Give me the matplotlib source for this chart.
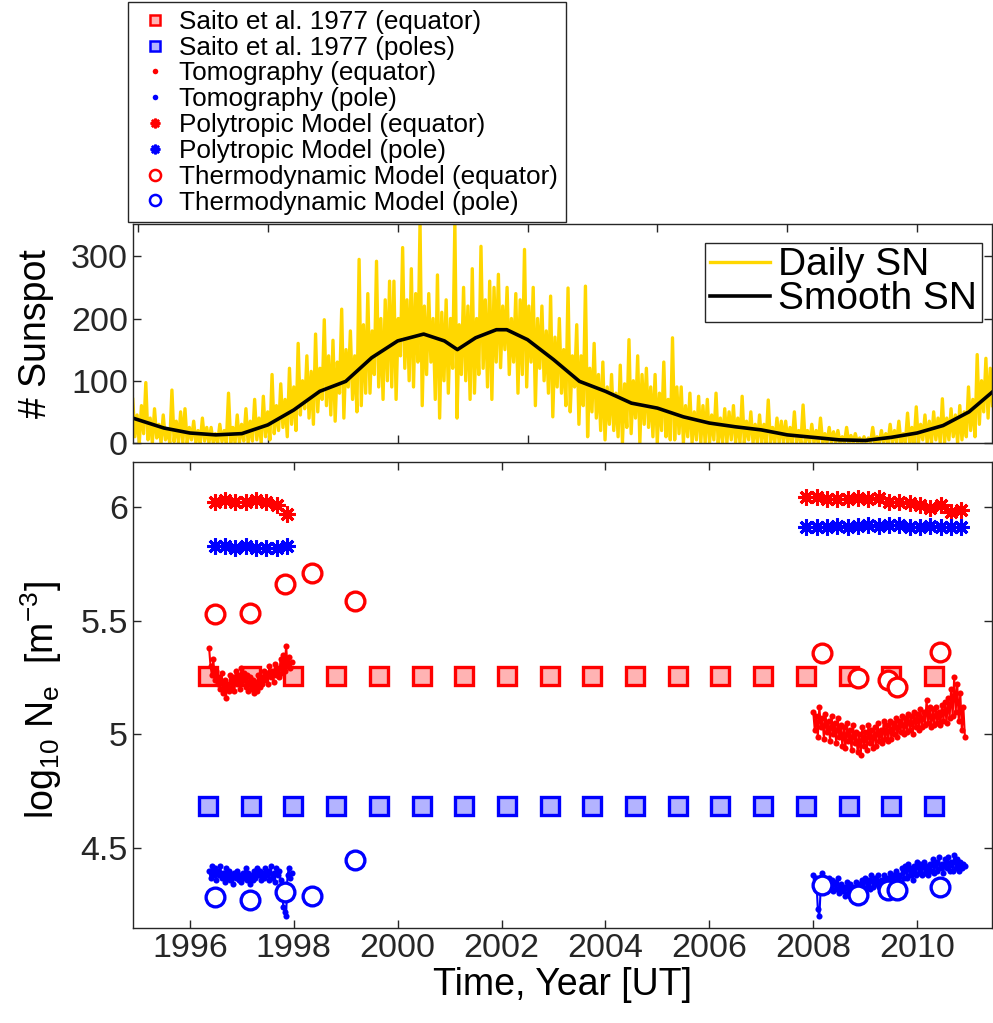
import matplotlib
matplotlib.use("Agg")
import matplotlib.pyplot as plt
from matplotlib.lines import Line2D
import numpy as np

plt.rcParams["font.family"] = ["Liberation Sans", "DejaVu Sans"]
plt.rcParams["mathtext.fontset"] = "custom"
plt.rcParams["mathtext.rm"] = "Liberation Sans"
plt.rcParams["mathtext.it"] = "Liberation Sans"

# ---- sunspot panel -------------------------------------------------------
sn_start, sn_end = 1994.90, 2011.45
daily_sn = [
    70, 10, 45, 0, 60, 15, 97, 5, 40, 0, 55, 8,
    30, 0, 45, 5, 20, 0, 85, 2, 35, 0, 50, 0,
    55, 0, 25, 5, 35, 0, 20, 0, 40, 3, 25, 0,
    25, 0, 15, 0, 30, 2, 20, 0, 80, 0, 25, 0,
    45, 0, 30, 3, 55, 0, 35, 3, 70, 5, 40, 0,
    75, 10, 50, 5, 110, 15, 60, 20, 95, 25, 70, 10,
    120, 30, 90, 20, 160, 45, 100, 55, 140, 40, 115, 30,
    175, 50, 120, 70, 198, 60, 140, 45, 165, 35, 130, 80,
    215, 40, 150, 90, 180, 70, 140, 50, 295, 60, 190, 80,
    240, 80, 180, 110, 292, 90, 200, 70, 230, 100, 260, 90,
    260, 70, 200, 140, 314, 120, 230, 100, 280, 90, 240, 130,
    355, 60, 220, 110, 240, 130, 200, 70, 270, 40, 210, 100,
    230, 80, 200, 120, 355, 40, 190, 110, 250, 100, 220, 70,
    280, 80, 200, 110, 316, 120, 230, 90, 260, 70, 250, 130,
    271, 121, 220, 150, 250, 110, 200, 130, 240, 80, 230, 110,
    311, 90, 220, 130, 250, 60, 200, 120, 220, 100, 180, 80,
    236, 42, 170, 90, 200, 80, 150, 60, 249, 50, 140, 90,
    190, 30, 140, 60, 252, 10, 120, 50, 160, 40, 110, 20,
    130, 5, 90, 30, 110, 20, 80, 10, 125, 0, 95, 25,
    166, 15, 100, 40, 140, 0, 110, 30, 120, 25, 90, 10,
    110, 0, 80, 20, 130, 10, 70, 5, 169, 5, 90, 15,
    90, 0, 60, 10, 80, 0, 50, 5, 75, 0, 60, 0,
    70, 0, 45, 5, 80, 0, 40, 0, 55, 0, 50, 5,
    60, 0, 40, 0, 75, 0, 35, 5, 50, 0, 30, 0,
    45, 0, 30, 0, 69, 0, 25, 0, 40, 0, 35, 0,
    35, 0, 25, 0, 50, 0, 20, 0, 61, 0, 20, 0,
    30, 0, 20, 0, 40, 0, 15, 0, 25, 0, 18, 0,
    20, 0, 10, 0, 25, 0, 12, 0, 15, 0, 8, 0,
    10, 0, 8, 0, 25, 0, 10, 0, 20, 0, 15, 0,
    30, 0, 20, 0, 35, 0, 15, 0, 48, 0, 25, 0,
    58, 0, 30, 5, 45, 0, 35, 0, 50, 5, 40, 0,
    71, 0, 40, 5, 55, 10, 45, 0, 60, 5, 50, 10,
    90, 20, 70, 10, 142, 30, 100, 50, 136, 40, 120, 60,
]
smooth_year = [1994.9, 1995.5, 1996.0, 1996.5, 1997.0, 1997.5, 1998.0, 1998.5,
               1999.0, 1999.5, 2000.0, 2000.5, 2000.9, 2001.15, 2001.5, 2001.9,
               2002.1, 2002.5, 2003.0, 2003.5, 2004.0, 2004.5, 2005.0, 2005.5,
               2006.0, 2006.5, 2007.0, 2007.5, 2008.0, 2008.5, 2009.0, 2009.5,
               2010.0, 2010.5, 2011.0, 2011.45]
smooth_sn = [40, 24, 16, 13, 15, 29, 53, 83, 99, 137, 164, 175, 164, 150, 169,
             182, 182, 166, 134, 99, 83, 64, 56, 42, 32, 26, 21, 13, 9, 5, 4,
             9, 16, 28, 50, 82]

# ---- density panel -------------------------------------------------------
saito_year = [1996.35, 1997.17, 1997.99, 1998.82, 1999.64, 2000.46, 2001.28,
              2002.10, 2002.93, 2003.75, 2004.57, 2005.39, 2006.21, 2007.04,
              2007.86, 2008.68, 2009.50, 2010.33]
saito_eq = [5.257] * len(saito_year)
saito_pole = [4.685] * len(saito_year)

tomo1_span = (1996.37, 1997.96)
tomo_eq1 = [
    5.38, 5.30, 5.26, 5.33, 5.24, 5.28, 5.22, 5.25, 5.20, 5.27,
    5.18, 5.24, 5.16, 5.22, 5.19, 5.26, 5.21, 5.25, 5.19, 5.28,
    5.22, 5.26, 5.20, 5.29, 5.24, 5.27, 5.21, 5.26, 5.19, 5.25,
    5.20, 5.24, 5.18, 5.23, 5.19, 5.26, 5.21, 5.25, 5.22, 5.28,
    5.24, 5.27, 5.22, 5.30, 5.25, 5.28, 5.23, 5.31, 5.26, 5.29,
    5.25, 5.33, 5.27, 5.35, 5.28, 5.39, 5.30, 5.34, 5.29, 5.32]
tomo_pole1 = [
    4.40, 4.37, 4.42, 4.38, 4.41, 4.36, 4.40, 4.38, 4.42, 4.37,
    4.39, 4.35, 4.41, 4.37, 4.40, 4.36, 4.38, 4.34, 4.39, 4.37,
    4.40, 4.36, 4.38, 4.35, 4.39, 4.37, 4.41, 4.36, 4.39, 4.34,
    4.38, 4.36, 4.40, 4.37, 4.41, 4.38, 4.40, 4.36, 4.39, 4.37,
    4.41, 4.38, 4.40, 4.36, 4.42, 4.37, 4.39, 4.35, 4.41, 4.38,
    4.40, 4.36, 4.33, 4.24, 4.22, 4.20, 4.38, 4.41, 4.37, 4.39]
tomo2_span = (2008.00, 2010.92)
tomo_eq2 = [
    5.10, 5.02, 5.08, 4.99, 5.12, 5.03, 5.07, 4.98, 5.09, 5.01,
    5.06, 4.97, 5.08, 5.00, 5.05, 4.96, 5.07, 4.99, 5.04, 4.95,
    5.03, 4.94, 5.05, 4.97, 5.02, 4.93, 5.04, 4.96, 5.01, 4.92,
    5.00, 4.91, 5.03, 4.95, 5.01, 4.93, 5.04, 4.96, 5.02, 4.94,
    5.03, 4.95, 5.05, 4.97, 5.02, 4.96, 5.06, 4.98, 5.04, 4.97,
    5.06, 4.98, 5.05, 5.00, 5.07, 4.99, 5.06, 5.01, 5.08, 5.00,
    5.07, 5.01, 5.09, 5.02, 5.08, 5.00, 5.10, 5.03, 5.09, 5.02,
    5.11, 5.03, 5.10, 5.04, 5.15, 5.05, 5.12, 5.03, 5.11, 5.04,
    5.12, 5.05, 5.10, 5.04, 5.13, 5.06, 5.14, 5.05, 5.16, 5.07,
    5.20, 5.08, 5.25, 5.10, 5.22, 5.06, 5.18, 5.02, 5.12, 4.99]
tomo_pole2 = [
    4.38, 4.33, 4.37, 4.23, 4.20, 4.34, 4.39, 4.32, 4.36, 4.31,
    4.37, 4.33, 4.36, 4.31, 4.35, 4.32, 4.37, 4.30, 4.34, 4.31,
    4.33, 4.29, 4.35, 4.30, 4.34, 4.28, 4.33, 4.27, 4.35, 4.31,
    4.34, 4.30, 4.36, 4.32, 4.37, 4.33, 4.36, 4.32, 4.38, 4.33,
    4.37, 4.34, 4.38, 4.33, 4.36, 4.32, 4.38, 4.34, 4.37, 4.35,
    4.39, 4.34, 4.38, 4.35, 4.40, 4.36, 4.38, 4.35, 4.41, 4.37,
    4.42, 4.37, 4.43, 4.38, 4.41, 4.36, 4.42, 4.38, 4.44, 4.39,
    4.43, 4.38, 4.44, 4.39, 4.42, 4.38, 4.43, 4.40, 4.45, 4.39,
    4.44, 4.40, 4.46, 4.41, 4.43, 4.39, 4.45, 4.41, 4.46, 4.40,
    4.44, 4.40, 4.47, 4.41, 4.45, 4.40, 4.44, 4.41, 4.43, 4.42]

poly1_span = (1996.48, 1997.87)
poly_eq1 = [6.02, 6.03, 6.02, 6.02, 6.03, 6.02, 6.01, 5.97]
poly_pole1 = [5.83, 5.83, 5.82, 5.83, 5.82, 5.82, 5.82, 5.83]
poly2_span = (2007.87, 2010.85)
poly_eq2 = [6.043, 6.045, 6.034, 6.034, 6.034, 6.038, 6.034, 6.038,
            6.023, 6.023, 6.016, 6.009, 5.994, 6.009, 5.980, 5.985]
poly_pole2 = [5.913, 5.913, 5.913, 5.916, 5.913, 5.916, 5.920, 5.916,
              5.920, 5.920, 5.910, 5.913, 5.916, 5.913, 5.913, 5.913]

thermo_year = [1996.48, 1997.15, 1997.83, 1998.35, 1999.17,
               2008.17, 2008.87, 2009.44, 2009.62, 2010.44]
thermo_eq = [5.53, 5.535, 5.66, 5.71, 5.585, 5.358, 5.248, 5.24, 5.21, 5.36]
thermo_pole = [4.285, 4.27, 4.305, 4.29, 4.447, 4.337, 4.293, 4.315, 4.315, 4.33]

RED, BLUE, GOLD = "#ff0000", "#0000ff", "#ffd700"
AXC = "#262626"
ASTER = (8, 2, 0)
TICK_FS, LABEL_FS = 24.5, 27


def span(s, vals):
    return np.linspace(s[0], s[1], len(vals))


def style(ax):
    for sp in ax.spines.values():
        sp.set_color(AXC)
        sp.set_linewidth(1.0)
    ax.tick_params(direction="in", length=6, width=1.0, colors=AXC,
                   labelcolor=AXC, labelsize=TICK_FS, top=True, right=True)


fig = plt.figure(figsize=(9.93, 10.23), dpi=100)
ax1 = fig.add_axes([0.1339, 0.567, 0.865, 0.2141])
ax2 = fig.add_axes([0.1339, 0.0929, 0.865, 0.4555])
xlim = (1994.904, 2011.44)

# top: sunspots
ax1.plot(np.linspace(sn_start, sn_end, len(daily_sn)), daily_sn, color=GOLD,
         lw=2.4, label="Daily SN")
ax1.plot(smooth_year, smooth_sn, color="black", lw=2.6, label="Smooth SN")
ax1.set_xlim(*xlim)
ax1.set_ylim(0, 352)
ax1.set_yticks([0, 100, 200, 300])
ax1.set_xticks([1995, 1997.5, 2000, 2002.5, 2005, 2007.5, 2010])
ax1.set_xticklabels([])
ax1.set_ylabel("# Sunspot", fontsize=LABEL_FS)
ax1.yaxis.set_label_coords(-0.092, 0.5)
style(ax1)
lg1 = ax1.legend(loc="upper right", bbox_to_anchor=(0.988, 0.915), fontsize=28,
                 handlelength=1.55, handletextpad=0.2, labelspacing=-0.05,
                 borderpad=0.12, borderaxespad=0, fancybox=False, framealpha=1)
lg1.get_frame().set_edgecolor(AXC)
lg1.get_frame().set_linewidth(1.0)

# bottom: densities
sq = dict(marker="s", ls="none", ms=12.5, mew=2.4)
ax2.plot(saito_year, saito_eq, mec=RED, mfc="#ffb3b3", **sq)
ax2.plot(saito_year, saito_pole, mec=BLUE, mfc="#b3b3ff", **sq)
dot = dict(marker="o", ls="-", lw=1.5, ms=4.4, mew=0)
ax2.plot(span(tomo1_span, tomo_eq1), tomo_eq1, color=RED, **dot)
ax2.plot(span(tomo2_span, tomo_eq2), tomo_eq2, color=RED, **dot)
ax2.plot(span(tomo1_span, tomo_pole1), tomo_pole1, color=BLUE, **dot)
ax2.plot(span(tomo2_span, tomo_pole2), tomo_pole2, color=BLUE, **dot)
ast = dict(marker=ASTER, ls="none", ms=11.5, mew=2.2)
ax2.plot(span(poly1_span, poly_eq1), poly_eq1, color=RED, **ast)
ax2.plot(span(poly2_span, poly_eq2), poly_eq2, color=RED, **ast)
ax2.plot(span(poly1_span, poly_pole1), poly_pole1, color=BLUE, **ast)
ax2.plot(span(poly2_span, poly_pole2), poly_pole2, color=BLUE, **ast)
circ = dict(marker="o", ls="none", ms=13.5, mew=2.4, mfc="white")
ax2.plot(thermo_year, thermo_eq, mec=RED, **circ)
ax2.plot(thermo_year, thermo_pole, mec=BLUE, **circ)

ax2.set_xlim(*xlim)
ax2.set_ylim(4.148, 6.198)
ax2.set_yticks([4.5, 5, 5.5, 6])
ax2.set_yticklabels(["4.5", "5", "5.5", "6"])
ax2.set_xticks(range(1996, 2011, 2))
ax2.set_xlabel("Time, Year [UT]", fontsize=LABEL_FS, labelpad=2)
ax2.set_ylabel(r"log$_{10}$ N$_{\rm e}$  [m$^{-3}$]", fontsize=LABEL_FS)
ax2.yaxis.set_label_coords(-0.08, 0.49)
style(ax2)

# figure legend at the top
handles = [
    Line2D([], [], marker="s", ls="none", ms=7, mew=1.8, mec=RED, mfc="#ffb3b3"),
    Line2D([], [], marker="s", ls="none", ms=7, mew=1.8, mec=BLUE, mfc="#b3b3ff"),
    Line2D([], [], marker="o", ls="none", ms=4, mew=0, color=RED),
    Line2D([], [], marker="o", ls="none", ms=4, mew=0, color=BLUE),
    Line2D([], [], marker=ASTER, ls="none", ms=7, mew=1.8, color=RED),
    Line2D([], [], marker=ASTER, ls="none", ms=7, mew=1.8, color=BLUE),
    Line2D([], [], marker="o", ls="none", ms=8, mew=1.8, mec=RED, mfc="white"),
    Line2D([], [], marker="o", ls="none", ms=8, mew=1.8, mec=BLUE, mfc="white"),
]
labels = ["Saito et al. 1977 (equator)", "Saito et al. 1977 (poles)",
          "Tomography (equator)", "Tomography (pole)",
          "Polytropic Model (equator)", "Polytropic Model (pole)",
          "Thermodynamic Model (equator)", "Thermodynamic Model (pole)"]
lg = fig.legend(handles, labels, loc="upper left",
                bbox_to_anchor=(128 / 993, 1 - 2 / 1023), fontsize=18.8,
                handlelength=1.45, handletextpad=0.2, labelspacing=0.07,
                borderpad=0.3, borderaxespad=0, fancybox=False, framealpha=1)
lg.get_frame().set_edgecolor(AXC)
lg.get_frame().set_linewidth(1.0)

fig.savefig("out.png", dpi=100)
